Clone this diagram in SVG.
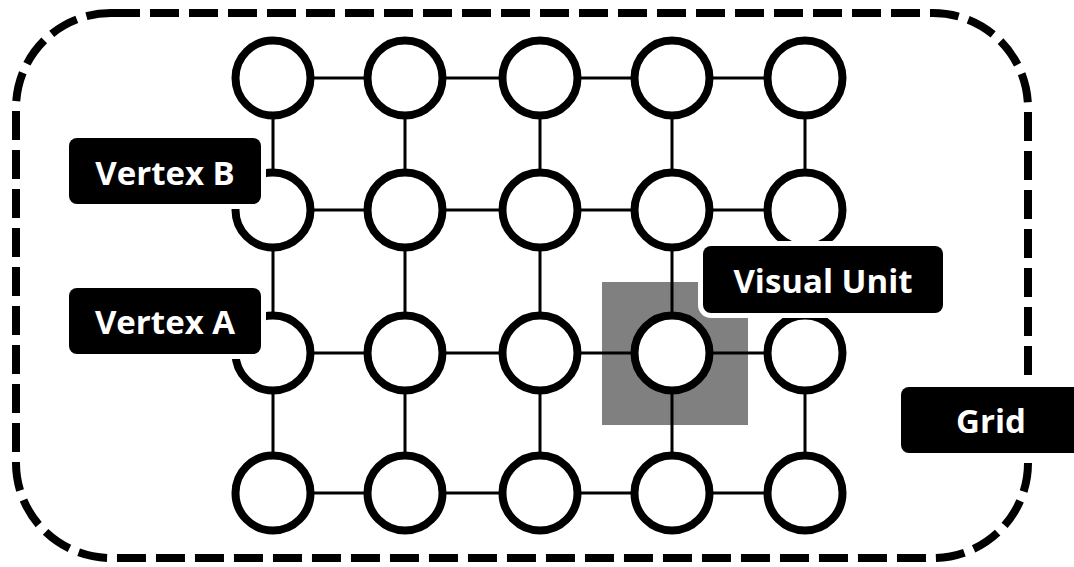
<svg xmlns="http://www.w3.org/2000/svg" width="1074" height="567" viewBox="0 0 1074 567">
  <style>
    .frame { fill: none; stroke: #000; stroke-width: 8; stroke-dasharray: 29 10; }
    .edge { stroke: #000; stroke-width: 3; }
    .vertex { fill: #fff; stroke: #000; stroke-width: 8; }
    .tag { fill: #000; stroke: #fff; stroke-width: 10; paint-order: stroke; }
    .tag-text { fill: #fff; font-family: "Open Sans", "Liberation Sans", sans-serif; font-weight: bold; font-size: 33px; text-anchor: middle; }
  </style>

  <!-- grid boundary -->
  <rect id="grid-frame" class="frame" x="16" y="13" width="1012" height="545" rx="95" ry="95"/>

  <!-- highlighted visual unit cell -->
  <rect id="visual-unit-cell" x="602" y="282" width="146" height="143" fill="#808080"/>

  <!-- lattice edges -->
  <g id="edges">
    <line class="edge" x1="273" y1="78" x2="805" y2="78"/>
    <line class="edge" x1="273" y1="210" x2="805" y2="210"/>
    <line class="edge" x1="273" y1="353" x2="805" y2="353"/>
    <line class="edge" x1="273" y1="493" x2="805" y2="493"/>
    <line class="edge" x1="273" y1="78" x2="273" y2="493"/>
    <line class="edge" x1="405" y1="78" x2="405" y2="493"/>
    <line class="edge" x1="540" y1="78" x2="540" y2="493"/>
    <line class="edge" x1="672" y1="78" x2="672" y2="493"/>
    <line class="edge" x1="805" y1="78" x2="805" y2="493"/>
  </g>

  <!-- lattice vertices -->
  <g id="vertices">
    <g id="v-r1"><circle class="vertex" cx="273" cy="78" r="37.5"/><circle class="vertex" cx="405" cy="78" r="37.5"/><circle class="vertex" cx="540" cy="78" r="37.5"/><circle class="vertex" cx="672" cy="78" r="37.5"/><circle class="vertex" cx="805" cy="78" r="37.5"/></g>
    <g id="v-r2"><circle class="vertex" cx="273" cy="210" r="37.5"/><circle class="vertex" cx="405" cy="210" r="37.5"/><circle class="vertex" cx="540" cy="210" r="37.5"/><circle class="vertex" cx="672" cy="210" r="37.5"/><circle class="vertex" cx="805" cy="210" r="37.5"/></g>
    <g id="v-r3"><circle class="vertex" cx="273" cy="353" r="37.5"/><circle class="vertex" cx="405" cy="353" r="37.5"/><circle class="vertex" cx="540" cy="353" r="37.5"/><circle class="vertex" cx="672" cy="353" r="37.5"/><circle class="vertex" cx="805" cy="353" r="37.5"/></g>
    <g id="v-r4"><circle class="vertex" cx="273" cy="493" r="37.5"/><circle class="vertex" cx="405" cy="493" r="37.5"/><circle class="vertex" cx="540" cy="493" r="37.5"/><circle class="vertex" cx="672" cy="493" r="37.5"/><circle class="vertex" cx="805" cy="493" r="37.5"/></g>
  </g>

  <!-- labels -->
  <g id="label-vertex-b">
    <rect class="tag" x="69" y="138" width="192" height="66" rx="8"/>
    <text class="tag-text" x="165" y="185">Vertex B</text>
  </g>
  <g id="label-vertex-a">
    <rect class="tag" x="69" y="288" width="192" height="66" rx="8"/>
    <text class="tag-text" x="165" y="334">Vertex A</text>
  </g>
  <g id="label-visual-unit">
    <rect class="tag" x="703" y="246" width="240" height="67" rx="8"/>
    <text class="tag-text" x="823" y="293">Visual Unit</text>
  </g>
  <g id="label-grid">
    <rect class="tag" x="901" y="387" width="190" height="66" rx="8"/>
    <text class="tag-text" x="991" y="433">Grid</text>
  </g>
</svg>
